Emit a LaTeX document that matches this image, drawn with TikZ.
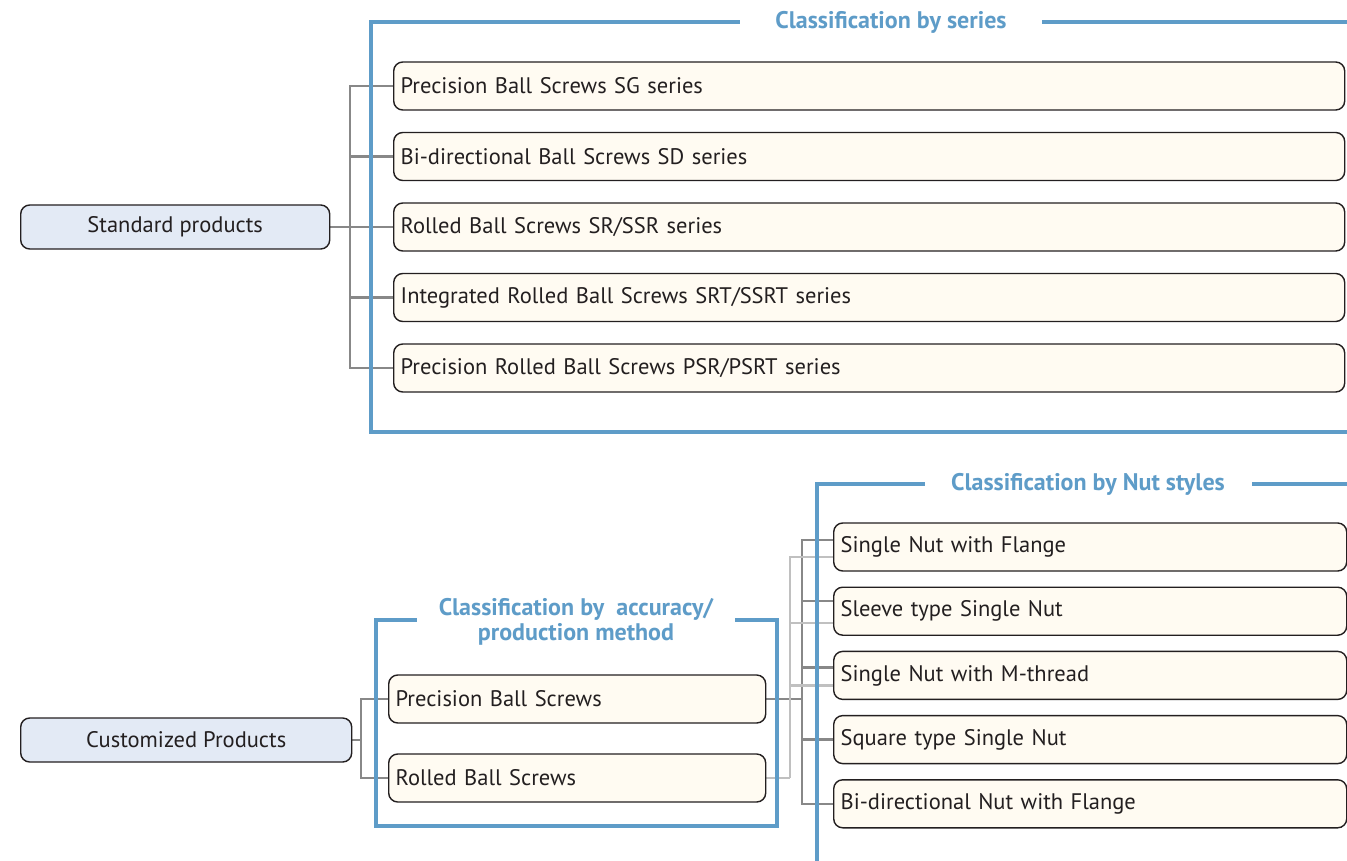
\documentclass[tikz,border=0pt]{standalone}
\usepackage{fontspec}
\setmainfont{PT Sans}
\usetikzlibrary{positioning,backgrounds}
\definecolor{frameblue}{RGB}{94,156,200}
\definecolor{boxcream}{RGB}{255,251,242}
\definecolor{rootblue}{RGB}{227,234,245}
\definecolor{linkdark}{RGB}{136,136,136}
\definecolor{linklight}{RGB}{192,192,192}
\definecolor{inkgray}{RGB}{35,31,32}
\begin{document}
\begin{tikzpicture}[x=1pt,y=-1pt,
	item/.style={draw=inkgray,line width=1.4pt,rounded corners=9pt,fill=boxcream,minimum height=48pt,inner xsep=7pt,align=left,anchor=west,font=\fontsize{22.5}{26}\selectfont,text=inkgray},
	root/.style={draw=inkgray,line width=1.4pt,rounded corners=9pt,fill=rootblue,minimum height=44pt,anchor=west,font=\fontsize{22.5}{26}\selectfont,text=inkgray},
	frame/.style={draw=frameblue,line width=4pt},
	title/.style={fill=white,text=frameblue,font=\bfseries\fontsize{24}{25}\selectfont,align=center,inner ysep=2pt},
	link/.style={draw=linkdark,line width=2.5pt},
	linkb/.style={draw=linklight,line width=2.5pt}]
	\useasboundingbox (0,0) rectangle (1347,861);
	% roots
	\node[root,minimum width=309pt] (std) at (20,227) {Standard products};
	\node[root,minimum width=331pt] (cus) at (20,740) {Customized Products};
	% series
	\node[item,text width=937pt] (s1) at (393,86) {Precision Ball Screws SG series};
	\node[item,text width=937pt,below=21.1pt of s1] (s2) {Bi-directional Ball Screws SD series};
	\node[item,text width=937pt,below=21.1pt of s2] (s3) {Rolled Ball Screws SR/SSR series};
	\node[item,text width=937pt,below=21.1pt of s3] (s4) {Integrated Rolled Ball Screws SRT/SSRT series};
	\node[item,text width=937pt,below=21.1pt of s4] (s5) {Precision Rolled Ball Screws PSR/PSRT series};
	% accuracy / production method
	\node[item,text width=363pt] (prec) at (388,699) {Precision Ball Screws};
	\node[item,text width=363pt] (roll) at (388,778) {Rolled Ball Screws};
	% nut styles
	\node[item,text width=499pt] (n1) at (833,547) {Single Nut with Flange};
	\node[item,text width=499pt,below=14.8pt of n1] (n2) {Sleeve type Single Nut};
	\node[item,text width=499pt,below=14.8pt of n2] (n3) {Single Nut with M-thread};
	\node[item,text width=499pt,below=14.8pt of n3] (n4) {Square type Single Nut};
	\node[item,text width=499pt,below=14.8pt of n4] (n5) {Bi-directional Nut with Flange};
	% titles
	\node[title,minimum width=302pt] (t1) at (891,22) {Classification by series};
	\node[title,minimum width=327pt] (t2) at (1088,484) {Classification by Nut styles};
	\node[title,minimum width=318pt] (t3) at (576,622) {Classification by~ accuracy/\\production method};
	\begin{scope}[on background layer]
	\coordinate (sj) at (350,227);
	\draw[link] (std.east) -- (sj);
	\foreach \i in {1,...,5} \draw[link] (sj) |- (s\i.west);
	\coordinate (cj) at (361,740);
	\draw[link] (cus.east) -- (cj);
	\draw[link] (prec.west) -| (cj) |- (roll.west);
	\coordinate (pj) at (802,699);
	\draw[link] (prec.east) -- (pj);
	\foreach \i/\d in {1/7,2/10,3/8,4/0,5/0} \draw[link] (pj) |- ([yshift=\d pt]n\i.west);
	\coordinate (rj) at (790,778);
	\draw[linkb] (roll.east) -- (rj);
	\foreach \i/\d in {1/-10,2/-12,3/-10} \draw[linkb] (rj) |- ([yshift=\d pt]n\i.west);
	% frames
	\draw[frame] (1350,22) -- (371,22) -- (371,432) -- (1350,432);
	\draw[frame] (1350,484) -- (817,484) -- (817,865);
	\draw[frame] (376,620) rectangle (777,826);
	\end{scope}
\end{tikzpicture}
\end{document}
